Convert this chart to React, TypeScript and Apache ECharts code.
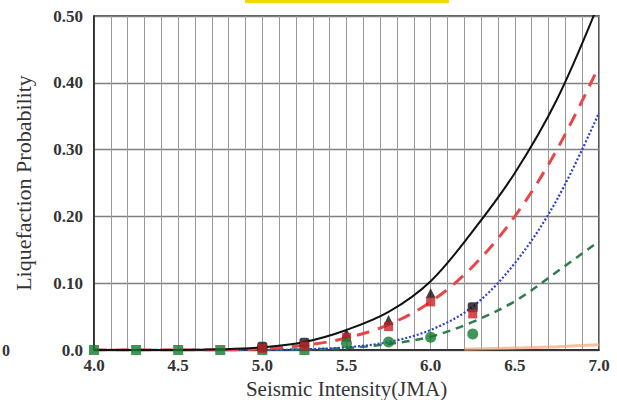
import React, { useEffect, useRef } from "react";
import * as echarts from "echarts";

const xs = [4.0, 4.25, 4.5, 4.75, 5.0, 5.25, 5.5, 5.75, 6.0, 6.25, 6.5, 6.75, 7.0];
const blackCurve = [0, 0, 0, 0.001, 0.004, 0.012, 0.03, 0.057, 0.103, 0.178, 0.265, 0.375, 0.52];
const redCurve = [0, 0, 0, 0, 0.002, 0.007, 0.018, 0.038, 0.072, 0.125, 0.2, 0.3, 0.425];
const blueCurve = [0, 0, 0, 0, 0, 0.001, 0.004, 0.012, 0.03, 0.065, 0.13, 0.225, 0.355];
const greenCurve = [0, 0, 0, 0, 0, 0.001, 0.003, 0.009, 0.02, 0.042, 0.073, 0.117, 0.163];
const orangeX = [6.2, 6.5, 6.75, 7.0];
const orangeCurve = [0.001, 0.003, 0.005, 0.008];

const blackTriX = [5.5, 5.75, 6.0];
const blackTriY = [0.025, 0.045, 0.085];
const blackDotX = [5.0, 5.25, 6.25];
const blackDotY = [0.005, 0.011, 0.064];
const redSqX = [5.0, 5.25, 5.5, 5.75, 6.0, 6.25];
const redSqY = [0.002, 0.006, 0.019, 0.035, 0.072, 0.054];
const greenSqX = [4.0, 4.25, 4.5, 4.75, 5.0, 5.25];
const greenSqY = [0, 0, 0, 0, 0, 0];
const greenDotX = [5.5, 5.75, 6.0, 6.25];
const greenDotY = [0.01, 0.012, 0.019, 0.024];

const pairs = (x: number[], y: number[]) => x.map((v, i) => [v, y[i]]);

const serif = "'Liberation Serif', 'Times New Roman', serif";

export default function App() {
  const ref = useRef<HTMLDivElement>(null);
  useEffect(() => {
    if (!ref.current) return;
    const chart = echarts.init(ref.current, null, { renderer: "svg" });
    chart.setOption({
      animation: false,
      backgroundColor: "#fff",
      grid: {
        left: 94,
        top: 16,
        width: 505,
        height: 334,
        show: true,
        borderColor: "#222",
        borderWidth: 1.5,
        outerBoundsMode: "none",
      },
      graphic: [
        { type: "rect", shape: { x: 245, y: 0, width: 204, height: 3 }, style: { fill: "#f5d800" } },
        {
          type: "text",
          x: 2,
          y: 342,
          style: { text: "0", font: `bold 16px ${serif}`, fill: "#333" },
        },
      ],
      xAxis: {
        type: "value",
        min: 4.0,
        max: 7.0,
        interval: 0.1,
        name: "Seismic Intensity(JMA)",
        nameLocation: "middle",
        nameGap: 24,
        nameTextStyle: { fontFamily: serif, fontSize: 21, color: "#333" },
        axisLine: { show: true, lineStyle: { color: "#222", width: 1.5 } },
        axisTick: { show: false },
        axisLabel: {
          fontFamily: serif,
          fontWeight: "bold",
          fontSize: 17,
          color: "#333",
          margin: 7,
          formatter: (v: number) => (Math.round(v * 10) % 5 === 0 ? v.toFixed(1) : ""),
        },
        splitLine: { show: true, lineStyle: { color: "#999", width: 1 } },
      },
      yAxis: {
        type: "value",
        min: 0,
        max: 0.5,
        interval: 0.1,
        name: "Liquefaction Probability",
        nameLocation: "middle",
        nameGap: 60,
        nameTextStyle: { fontFamily: serif, fontSize: 22, color: "#333" },
        axisLine: { show: true, lineStyle: { color: "#222", width: 1.5 } },
        axisTick: { show: false },
        axisLabel: {
          fontFamily: serif,
          fontWeight: "bold",
          fontSize: 17,
          color: "#333",
          margin: 11,
          formatter: (v: number) => (v === 0 ? "0.0" : v.toFixed(2)),
        },
        splitLine: { show: true, lineStyle: { color: "#808080", width: 1.3 } },
      },
      series: [
        {
          type: "line",
          data: pairs(orangeX, orangeCurve),
          showSymbol: false,
          smooth: 0.3,
          lineStyle: { color: "#f2a57a", width: 3, opacity: 0.7 },
          z: 2,
        },
        {
          type: "line",
          data: pairs(xs, greenCurve),
          showSymbol: false,
          smooth: 0.35,
          lineStyle: { color: "#2e7d4f", width: 2.5, type: [8, 6] },
          z: 3,
        },
        {
          type: "line",
          data: pairs(xs, blueCurve),
          showSymbol: false,
          smooth: 0.35,
          lineStyle: { color: "#2a3fd0", width: 2.2, type: [2, 2] },
          z: 3,
        },
        {
          type: "line",
          data: pairs(xs, redCurve),
          showSymbol: false,
          smooth: 0.35,
          lineStyle: { color: "#e8474a", width: 3, type: [13, 9] },
          z: 3,
        },
        {
          type: "line",
          data: pairs(xs, blackCurve),
          showSymbol: false,
          smooth: 0.35,
          lineStyle: { color: "#111", width: 2 },
          z: 4,
        },
        {
          type: "scatter",
          data: pairs(greenSqX, greenSqY),
          symbol: "rect",
          symbolSize: 10,
          itemStyle: { color: "#137a2e" },
          z: 5,
        },
        {
          type: "scatter",
          data: pairs(blackDotX, blackDotY),
          symbol: "roundRect",
          symbolSize: 10,
          itemStyle: { color: "#111" },
          z: 5,
        },
        {
          type: "scatter",
          data: pairs(blackTriX, blackTriY),
          symbol: "triangle",
          symbolSize: 10,
          itemStyle: { color: "#111" },
          z: 5,
        },
        {
          type: "scatter",
          data: pairs(redSqX, redSqY),
          symbol: "rect",
          symbolSize: 9,
          itemStyle: { color: "#c8202a" },
          z: 6,
        },
        {
          type: "scatter",
          data: pairs(greenDotX, greenDotY),
          symbol: "circle",
          symbolSize: 11,
          itemStyle: { color: "#137a2e" },
          z: 6,
        },
      ],
    });
    return () => chart.dispose();
  }, []);
  return <div ref={ref} style={{ width: 617, height: 400, position: "absolute", left: 0, top: 0 }} />;
}
